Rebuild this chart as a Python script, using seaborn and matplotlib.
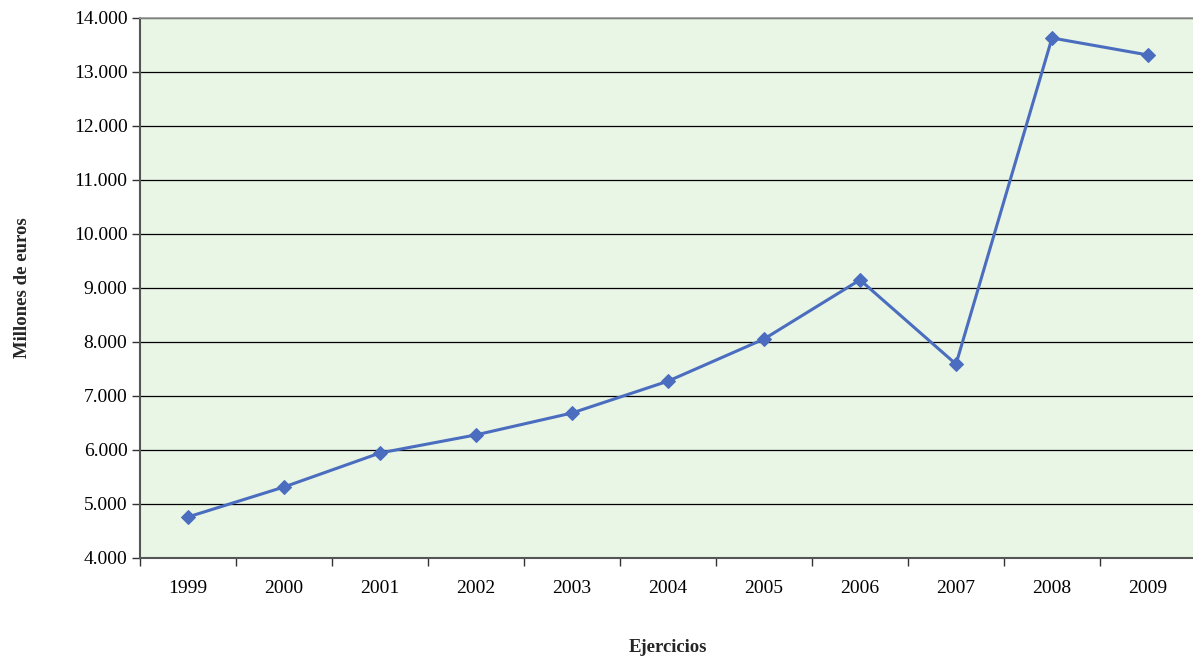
import matplotlib
matplotlib.use("Agg")
import matplotlib.pyplot as plt
import matplotlib.ticker as mticker
import seaborn as sns
import pandas as pd

years = ["1999", "2000", "2001", "2002", "2003", "2004", "2005", "2006", "2007", "2008", "2009"]
values = [4760, 5315, 5945, 6280, 6685, 7275, 8055, 9150, 7590, 13630, 13315]

sns.set_theme(style="white")
plt.rcParams["font.family"] = ["Liberation Serif", "DejaVu Serif"]

df = pd.DataFrame({"year": years, "value": values, "pos": range(len(years))})

fig = plt.figure(figsize=(11.93, 6.62), dpi=100)
ax = fig.add_axes([140 / 1193, 1 - 558 / 662, 1056 / 1193, 540 / 662])
ax.set_facecolor("#e9f5e5")

sns.lineplot(data=df, x="pos", y="value", ax=ax, color="#4a6dbf", linewidth=2.2,
             marker="D", markersize=7.5, markeredgecolor="#4a6dbf", zorder=3)

ax.set_xlim(-0.5, len(years) - 0.5)
ax.set_ylim(4000, 14000)
ax.yaxis.set_major_locator(mticker.MultipleLocator(1000))
ax.yaxis.set_major_formatter(mticker.FuncFormatter(lambda v, p: f"{int(v):,}".replace(",", ".")))
ax.grid(axis="y", color="black", linewidth=0.9)
ax.set_axisbelow(True)

ax.set_xticks(range(len(years)))
ax.set_xticklabels(years)
ax.set_xticks([i + 0.5 for i in range(-1, len(years))], minor=True)
ax.tick_params(axis="x", which="major", length=0, pad=16, labelsize=14, colors="black")
ax.tick_params(axis="x", which="minor", length=6, width=1, color="#333333", direction="out", bottom=True)
ax.tick_params(axis="y", which="major", length=6, width=1, color="#333333", direction="out", left=True,
               labelsize=14, pad=3, colors="black")

for s in ["left", "bottom"]:
    ax.spines[s].set_color("#555555")
    ax.spines[s].set_linewidth(1.5)
ax.spines["top"].set_color("#999999")
ax.spines["top"].set_linewidth(1.2)
ax.spines["right"].set_visible(False)

ax.set_xlabel("Ejercicios", fontsize=13.5, fontweight="bold", labelpad=30)
ax.set_ylabel("Millones de euros", fontsize=13.5, fontweight="bold", labelpad=31)

fig.savefig("out.png", dpi=100)
